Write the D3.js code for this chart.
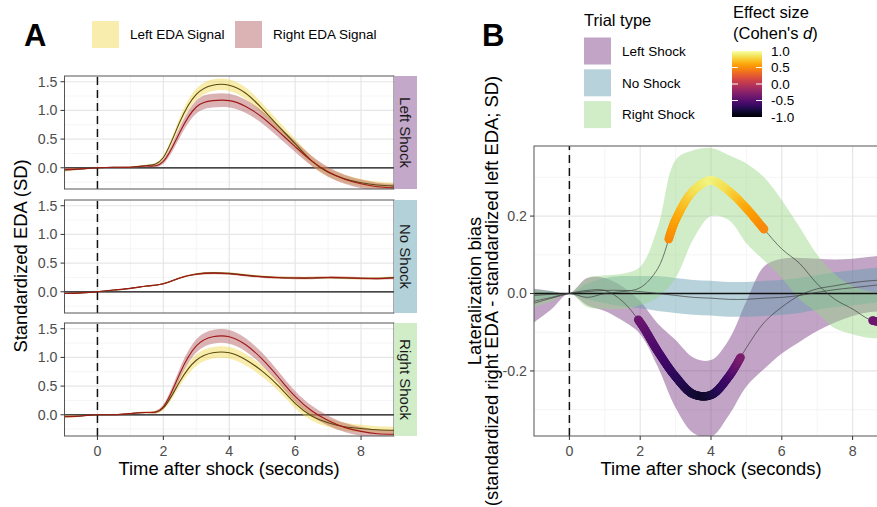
<!DOCTYPE html>
<html>
<head>
<meta charset="utf-8">
<title>EDA lateralization</title>
<script src="https://cdn.jsdelivr.net/npm/d3@7"></script>
<style>
  body { margin: 0; background: #fff; }
  svg { font-family: "Liberation Sans", Arial, sans-serif; }
</style>
</head>
<body>
<svg id="chart" width="877" height="507"></svg>
<script>
// time grid (seconds after shock)
var time = [-1,-0.5,0,0.5,1,1.5,2,2.5,3,3.5,4,4.5,5,5.5,6,6.5,7,7.5,8,8.5,9];

// panel A: standardized EDA, one pair of signals per trial type
var lsLeft  = [-0.04,-0.02,0,0.01,0.01,0.04,0.18,0.8,1.28,1.44,1.44,1.3,1.03,0.72,0.42,0.12,-0.08,-0.19,-0.26,-0.3,-0.32];
var lsRight = [-0.03,-0.02,0,0.01,0.01,0.03,0.11,0.62,1.06,1.17,1.17,1.07,0.88,0.63,0.37,0.12,-0.07,-0.2,-0.28,-0.33,-0.35];
var nsLeft  = [-0.03,-0.02,0,0.03,0.06,0.1,0.14,0.24,0.31,0.33,0.32,0.29,0.265,0.25,0.24,0.24,0.245,0.24,0.235,0.235,0.25];
var nsRight = [-0.03,-0.02,0,0.03,0.06,0.1,0.14,0.24,0.305,0.325,0.315,0.285,0.26,0.245,0.24,0.24,0.25,0.245,0.235,0.23,0.24];
var rsLeft  = [-0.03,-0.02,0,0.0,0.02,0.04,0.12,0.58,0.95,1.08,1.08,0.96,0.76,0.5,0.2,-0.02,-0.14,-0.21,-0.24,-0.26,-0.27];
var rsRight = [-0.03,-0.02,0,0.0,0.02,0.04,0.14,0.72,1.2,1.36,1.36,1.22,0.97,0.65,0.32,0.07,-0.1,-0.22,-0.29,-0.33,-0.34];
var hwLeftEDA  = [0.03,0.01,0,0.005,0.01,0.015,0.04,0.08,0.1,0.1,0.1,0.1,0.095,0.09,0.085,0.08,0.075,0.07,0.065,0.06,0.06];
var hwRightEDA = [0.03,0.01,0,0.005,0.01,0.015,0.04,0.09,0.115,0.12,0.12,0.115,0.11,0.1,0.095,0.09,0.085,0.08,0.075,0.07,0.07];
var hwNoShock  = [0.01,0.005,0,0.005,0.008,0.01,0.012,0.015,0.018,0.02,0.02,0.02,0.02,0.02,0.02,0.02,0.02,0.02,0.02,0.02,0.02];

// panel B: lateralization bias (right - left), mean and ribbon limits
var biasLeft = [-0.025,-0.012,0,0.008,0.008,-0.02,-0.075,-0.15,-0.215,-0.26,-0.262,-0.215,-0.14,-0.075,-0.035,-0.005,0.012,0.02,0.028,0.033,0.035];
var loLeft   = [-0.075,-0.04,0,-0.03,-0.045,-0.07,-0.105,-0.19,-0.295,-0.36,-0.37,-0.315,-0.24,-0.195,-0.155,-0.125,-0.097,-0.075,-0.058,-0.048,-0.045];
var hiLeft   = [0.012,0.006,0,0.04,0.04,0.018,-0.02,-0.078,-0.12,-0.165,-0.172,-0.12,-0.02,0.07,0.09,0.092,0.09,0.088,0.09,0.095,0.1];
var biasNo   = [-0.005,-0.002,0,0.005,0.008,0.008,0.005,0.0,-0.005,-0.01,-0.012,-0.015,-0.015,-0.012,-0.01,-0.005,0.003,0.01,0.015,0.02,0.025];
var loNo     = [-0.02,-0.01,0,-0.015,-0.025,-0.033,-0.038,-0.045,-0.05,-0.055,-0.057,-0.06,-0.06,-0.058,-0.055,-0.05,-0.042,-0.035,-0.03,-0.025,-0.02];
var hiNo     = [0.01,0.006,0,0.025,0.04,0.045,0.045,0.045,0.04,0.035,0.033,0.03,0.03,0.033,0.035,0.04,0.048,0.055,0.06,0.065,0.07];
var biasRight = [-0.02,-0.01,0,-0.01,0.0,0.005,0.015,0.065,0.19,0.265,0.292,0.265,0.22,0.166,0.115,0.078,0.025,-0.015,-0.04,-0.068,-0.075];
var loRight   = [-0.035,-0.02,0,-0.035,-0.04,-0.04,-0.03,-0.01,0.04,0.14,0.2,0.19,0.13,0.085,0.04,-0.015,-0.05,-0.09,-0.105,-0.115,-0.115];
var hiRight   = [0.01,0.005,0,0.039,0.047,0.051,0.069,0.172,0.345,0.37,0.376,0.358,0.336,0.3,0.241,0.172,0.1,0.05,0.02,0.005,0.0];

// significant stretches, with Cohen's d along them
var sigLeftT  = [1.94,2.5,3.0,3.5,3.75,4.0,4.5,4.84];
var sigLeftD  = [-0.38,-0.55,-0.68,-0.8,-0.85,-0.8,-0.6,-0.32];
var sigRightT = [2.8,3.0,3.5,4.0,4.5,5.0,5.5];
var sigRightD = [0.48,0.58,0.82,0.93,0.82,0.62,0.48];
var sigRight2T = [8.55,9.0];
var sigRight2D = [-0.38,-0.4];

var trialTypes = ["Left Shock", "No Shock", "Right Shock"];
var trialFill  = ["#773780", "#5f9bad", "#97d785"];
var stripFill  = ["#c4a8ca", "#b3d1d9", "#d0edc8"];
var signalNames = ["Left EDA Signal", "Right EDA Signal"];
var signalFill  = ["#f0d84a", "#b2575c"];
var signalLine  = ["#5c4a0c", "#a01818"];
var xTicks = [0, 2, 4, 6, 8];
var xMinor = [1, 3, 5, 7];
var yTicksA = [0, 0.5, 1, 1.5];
var yMinorA = [-0.25, 0.25, 0.75, 1.25];
var yTicksB = [-0.2, 0, 0.2];
var yMinorB = [-0.3, -0.1, 0.1, 0.3];
var dTicks = [1, 0.5, 0, -0.5, -1];

var svg = d3.select("#chart");
var fmt = function(d) { return d.toFixed(1); };   // plain hyphen minus, like R
var defs = svg.append("defs");
var titleSize = 18.4, tickSize = 14.2;

function grid(g, x, y, xs, xm, ys, ym) {
  g.selectAll(null).data(xm).enter().append("line")
    .attr("x1", x).attr("x2", x).attr("y1", y.range()[0]).attr("y2", y.range()[1])
    .attr("stroke", "#f0f0f0").attr("stroke-width", 0.7);
  g.selectAll(null).data(ym).enter().append("line")
    .attr("y1", y).attr("y2", y).attr("x1", x.range()[0]).attr("x2", x.range()[1])
    .attr("stroke", "#f0f0f0").attr("stroke-width", 0.7);
  g.selectAll(null).data(xs).enter().append("line")
    .attr("x1", x).attr("x2", x).attr("y1", y.range()[0]).attr("y2", y.range()[1])
    .attr("stroke", "#e6e6e6").attr("stroke-width", 1.2);
  g.selectAll(null).data(ys).enter().append("line")
    .attr("y1", y).attr("y2", y).attr("x1", x.range()[0]).attr("x2", x.range()[1])
    .attr("stroke", "#e6e6e6").attr("stroke-width", 1.2);
}

function refLines(g, x, y) {
  g.append("line").attr("x1", x.range()[0]).attr("x2", x.range()[1])
    .attr("y1", y(0)).attr("y2", y(0)).attr("stroke", "#111").attr("stroke-width", 1.3);
  g.append("line").attr("x1", x(0)).attr("x2", x(0))
    .attr("y1", y.range()[0]).attr("y2", y.range()[1])
    .attr("stroke", "#111").attr("stroke-width", 1.5).attr("stroke-dasharray", "8,5");
}

function yAxis(x0, y, ticks) {
  var g = svg.append("g");
  g.selectAll(null).data(ticks).enter().append("line")
    .attr("x1", x0 - 4).attr("x2", x0).attr("y1", y).attr("y2", y)
    .attr("stroke", "#333");
  g.selectAll(null).data(ticks).enter().append("text")
    .attr("x", x0 - 7).attr("y", y).attr("dy", "0.35em")
    .attr("text-anchor", "end").attr("font-size", tickSize).attr("fill", "#4d4d4d")
    .text(fmt);
}

function xAxis(x, y0, cx) {
  var g = svg.append("g");
  g.selectAll(null).data(xTicks).enter().append("line")
    .attr("x1", x).attr("x2", x).attr("y1", y0).attr("y2", y0 + 4)
    .attr("stroke", "#333");
  g.selectAll(null).data(xTicks).enter().append("text")
    .attr("x", x).attr("y", 455.5).attr("text-anchor", "middle")
    .attr("font-size", tickSize).attr("fill", "#4d4d4d").text(function(d) { return d; });
  svg.append("text").attr("x", cx).attr("y", 475).attr("text-anchor", "middle")
    .attr("font-size", titleSize).text("Time after shock (seconds)");
}

// ---------- panel A ----------
var xA = d3.scaleLinear().domain([-1, 9]).range([64.5, 394]);
var facetTop = [76, 200, 323];
var facetH = 113;
var facetData = [
  [lsLeft, lsRight, hwLeftEDA, hwRightEDA],
  [nsLeft, nsRight, hwNoShock, hwNoShock],
  [rsLeft, rsRight, hwLeftEDA, hwRightEDA]
];

facetData.forEach(function(fd, k) {
  var top = facetTop[k];
  var yA = d3.scaleLinear().domain([-0.37, 1.6]).range([top + facetH, top]);
  var id = "clipA" + k;
  defs.append("clipPath").attr("id", id).append("rect")
    .attr("x", xA.range()[0]).attr("y", top).attr("width", xA.range()[1] - xA.range()[0]).attr("height", facetH);
  var g = svg.append("g").attr("clip-path", "url(#" + id + ")");
  grid(g, xA, yA, xTicks, xMinor, yTicksA, yMinorA);
  refLines(g, xA, yA);
  [0, 1].forEach(function(s) {
    var m = fd[s], hw = fd[s + 2];
    var area = d3.area().curve(d3.curveNatural)
      .x(function(d, i) { return xA(time[i]); })
      .y0(function(d, i) { return yA(m[i] - hw[i]); })
      .y1(function(d, i) { return yA(m[i] + hw[i]); });
    g.append("path").datum(m).attr("d", area)
      .attr("fill", signalFill[s]).attr("fill-opacity", 0.45);
  });
  [0, 1].forEach(function(s) {
    var line = d3.line().curve(d3.curveNatural)
      .x(function(d, i) { return xA(time[i]); })
      .y(function(d) { return yA(d); });
    g.append("path").datum(fd[s]).attr("d", line)
      .attr("fill", "none").attr("stroke", signalLine[s]).attr("stroke-width", 1.1);
  });
  svg.append("rect").attr("x", xA.range()[0]).attr("y", top)
    .attr("width", xA.range()[1] - xA.range()[0]).attr("height", facetH)
    .attr("fill", "none").attr("stroke", "#555").attr("stroke-width", 1);
  yAxis(xA.range()[0], yA, yTicksA);
  // strip
  svg.append("rect").attr("x", 394).attr("y", top).attr("width", 23).attr("height", facetH)
    .attr("fill", stripFill[k]);
  svg.append("text").attr("transform", "translate(405.5," + (top + facetH / 2) + ") rotate(90)")
    .attr("dy", "0.35em").attr("text-anchor", "middle").attr("font-size", 15).attr("fill", "#1a1a1a")
    .text(trialTypes[k]);
  if (k === 2) xAxis(xA, top + facetH, 229);
});

svg.append("text").attr("transform", "translate(27,256) rotate(-90)")
  .attr("text-anchor", "middle").attr("font-size", titleSize).text("Standardized EDA (SD)");
svg.append("text").attr("x", 24).attr("y", 46).attr("font-size", 31).attr("font-weight", "bold").text("A");

// legend A
var legA = svg.append("g");
var legAx = [92, 235];
signalNames.forEach(function(n, i) {
  legA.append("rect").attr("x", legAx[i]).attr("y", 21).attr("width", 27).attr("height", 27)
    .attr("fill", signalFill[i]).attr("fill-opacity", 0.45);
  legA.append("text").attr("x", legAx[i] + 38).attr("y", 34.5).attr("dy", "0.35em")
    .attr("font-size", 13.5).text(n);
});

// ---------- panel B ----------
var xB = d3.scaleLinear().domain([-1, 9]).range([534, 888]);
var yB = d3.scaleLinear().domain([-0.368, 0.381]).range([436, 146]);
var dColor = d3.scaleSequential(d3.interpolateInferno).domain([-1, 1]);

defs.append("clipPath").attr("id", "clipB").append("rect")
  .attr("x", 534).attr("y", 146).attr("width", 354).attr("height", 290);
var gB = svg.append("g").attr("clip-path", "url(#clipB)");
grid(gB, xB, yB, xTicks, xMinor, yTicksB, yMinorB);

var bias = [[biasLeft, loLeft, hiLeft], [biasNo, loNo, hiNo], [biasRight, loRight, hiRight]];
bias.forEach(function(b, k) {
  var area = d3.area().curve(d3.curveCatmullRom.alpha(0.5))
    .x(function(d, i) { return xB(time[i]); })
    .y0(function(d, i) { return yB(b[1][i]); })
    .y1(function(d, i) { return yB(b[2][i]); });
  gB.append("path").datum(b[0]).attr("d", area)
    .attr("fill", trialFill[k]).attr("fill-opacity", 0.45);
});
refLines(gB, xB, yB);

var meanPaths = bias.map(function(b) {
  var line = d3.line().curve(d3.curveCatmullRom.alpha(0.5))
    .x(function(d, i) { return xB(time[i]); })
    .y(function(d) { return yB(d); });
  return gB.append("path").datum(b[0]).attr("d", line)
    .attr("fill", "none").attr("stroke", "#3a3a3a").attr("stroke-width", 0.8)
    .attr("stroke-opacity", 0.85).node();
});

// thick points along significant stretches
function sigPoints(node, tArr, dArr) {
  var dScale = d3.scaleLinear().domain(tArr).range(dArr);
  var t0 = tArr[0], t1 = tArr[tArr.length - 1];
  var total = node.getTotalLength();
  var pts = [];
  for (var L = 0; L <= total; L += 0.8) {
    var p = node.getPointAtLength(L);
    var t = xB.invert(p.x);
    if (t >= t0 && t <= t1) pts.push({ x: p.x, y: p.y, d: dScale(t) });
  }
  gB.selectAll(null).data(pts).enter().append("circle")
    .attr("cx", function(d) { return d.x; }).attr("cy", function(d) { return d.y; })
    .attr("r", 4.2).attr("fill", function(d) { return dColor(d.d); });
}
sigPoints(meanPaths[0], sigLeftT, sigLeftD);
sigPoints(meanPaths[2], sigRightT, sigRightD);
sigPoints(meanPaths[2], sigRight2T, sigRight2D);

svg.append("rect").attr("x", 534).attr("y", 146).attr("width", 354).attr("height", 290)
  .attr("fill", "none").attr("stroke", "#555").attr("stroke-width", 1);
yAxis(534, yB, yTicksB);
xAxis(xB, 436, 711);

svg.append("text").attr("transform", "translate(481,291) rotate(-90)")
  .attr("text-anchor", "middle").attr("font-size", titleSize).text("Lateralization bias");
svg.append("text").attr("transform", "translate(498,291) rotate(-90)")
  .attr("text-anchor", "middle").attr("font-size", titleSize)
  .text("(standardized right EDA - standardized left EDA; SD)");
svg.append("text").attr("x", 482).attr("y", 46).attr("font-size", 31).attr("font-weight", "bold").text("B");

// legend: trial type
svg.append("text").attr("x", 584).attr("y", 26).attr("font-size", 16.5).text("Trial type");
trialTypes.forEach(function(n, i) {
  var y0 = 37.5 + i * 31.8;
  svg.append("rect").attr("x", 584).attr("y", y0).attr("width", 27).attr("height", 27)
    .attr("fill", trialFill[i]).attr("fill-opacity", 0.45);
  svg.append("text").attr("x", 622).attr("y", y0 + 13.5).attr("dy", "0.35em")
    .attr("font-size", 13.5).text(n);
});

// legend: effect size colour bar
svg.append("text").attr("x", 733).attr("y", 18).attr("font-size", 16.5).text("Effect size");
var cohen = svg.append("text").attr("x", 733).attr("y", 38.5).attr("font-size", 16.5);
cohen.append("tspan").text("(Cohen's  ");
cohen.append("tspan").attr("font-style", "italic").text("d");
cohen.append("tspan").text(")");

var yD = d3.scaleLinear().domain([-1, 1]).range([117, 51]);
var grad = defs.append("linearGradient").attr("id", "infernoGrad")
  .attr("x1", 0).attr("y1", 1).attr("x2", 0).attr("y2", 0);
d3.range(0, 1.0001, 0.05).forEach(function(s) {
  grad.append("stop").attr("offset", s).attr("stop-color", d3.interpolateInferno(s));
});
svg.append("rect").attr("x", 732).attr("y", yD(1)).attr("width", 30).attr("height", yD(-1) - yD(1))
  .attr("fill", "url(#infernoGrad)");
var inner = [0.5, 0, -0.5];
svg.selectAll(null).data(inner).enter().append("line")
  .attr("x1", 732).attr("x2", 738).attr("y1", yD).attr("y2", yD)
  .attr("stroke", "#fff").attr("stroke-width", 1);
svg.selectAll(null).data(inner).enter().append("line")
  .attr("x1", 756).attr("x2", 762).attr("y1", yD).attr("y2", yD)
  .attr("stroke", "#fff").attr("stroke-width", 1);
svg.selectAll(null).data(dTicks).enter().append("text")
  .attr("x", 771).attr("y", yD).attr("dy", "0.35em").attr("font-size", 13.5)
  .text(fmt);
</script>
</body>
</html>
